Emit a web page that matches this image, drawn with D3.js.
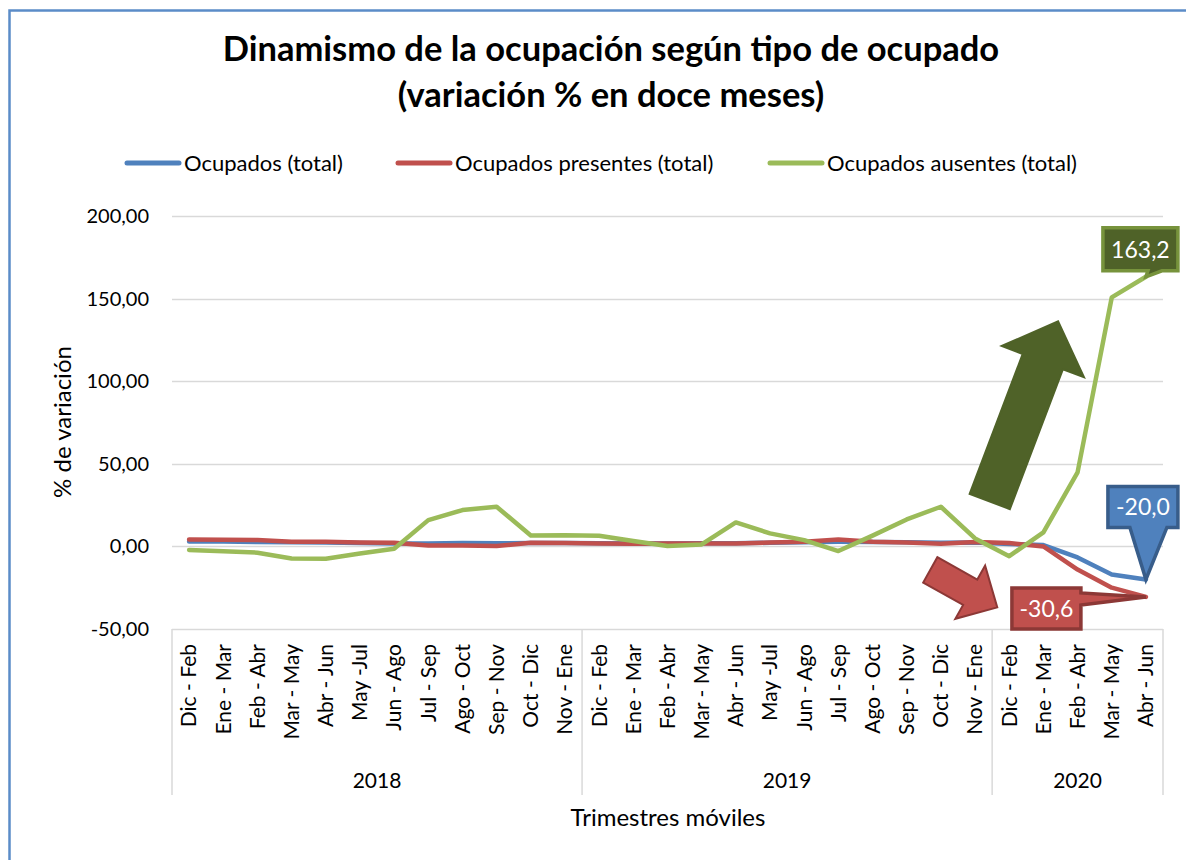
<!DOCTYPE html>
<html>
<head>
<meta charset="utf-8">
<script src="https://cdn.jsdelivr.net/npm/d3@7"></script>
<style>
  body { margin: 0; background: #fff; }
  svg { display: block; font-family: Lato, "Open Sans", sans-serif; }
</style>
</head>
<body>
<svg id="chart"></svg>
<script>
// categories (rolling quarters) and the year groups they belong to
const categories = [
  'Dic - Feb', 'Ene - Mar', 'Feb - Abr', 'Mar - May', 'Abr - Jun', 'May -Jul',
  'Jun - Ago', 'Jul - Sep', 'Ago - Oct', 'Sep - Nov', 'Oct - Dic', 'Nov - Ene',
  'Dic - Feb', 'Ene - Mar', 'Feb - Abr', 'Mar - May', 'Abr - Jun', 'May -Jul',
  'Jun - Ago', 'Jul - Sep', 'Ago - Oct', 'Sep - Nov', 'Oct - Dic', 'Nov - Ene',
  'Dic - Feb', 'Ene - Mar', 'Feb - Abr', 'Mar - May', 'Abr - Jun'
];
const years = ['2018', '2019', '2020'];
const yearCounts = [12, 12, 5];

// series (% variation in twelve months)
const ocupadosTotal = [3.0, 2.9, 2.7, 2.5, 2.4, 2.1, 1.8, 1.8, 2.0, 1.9, 2.1, 2.0,
  1.9, 1.8, 1.8, 1.9, 1.9, 2.2, 2.5, 2.8, 2.7, 2.5, 2.2, 2.3, 1.5, 0.8, -6.7, -17.0, -20.0];
const ocupadosPresentes = [4.2, 4.0, 3.8, 2.8, 2.8, 2.4, 2.2, 0.6, 0.5, 0.2, 2.2, 2.1,
  1.8, 1.6, 1.7, 1.8, 1.8, 2.3, 2.8, 4.2, 2.8, 2.4, 1.6, 2.6, 2.0, 0.0, -14.0, -25.0, -30.6];
const ocupadosAusentes = [-2.2, -3.0, -3.8, -7.3, -7.5, -4.3, -1.4, 15.9, 22.0, 24.0, 6.6, 6.8,
  6.5, 3.3, 0.2, 1.2, 14.5, 7.9, 3.8, -2.8, 6.5, 16.3, 24.0, 4.8, -5.9, 8.5, 44.8, 150.7, 163.2];

const seriesNames = ['Ocupados (total)', 'Ocupados presentes (total)', 'Ocupados ausentes (total)'];
const seriesColors = ['#4f81bd', '#c0504d', '#9bbb59'];
const yTicks = [-50, 0, 50, 100, 150, 200];

const width = 1186, height = 860;
const margin = { top: 216, right: 23, bottom: 231, left: 172 };
const plotW = width - margin.left - margin.right;
const plotH = height - margin.top - margin.bottom;

const svg = d3.select('#chart').attr('width', width).attr('height', height);
svg.append('rect').attr('width', width).attr('height', height).attr('fill', '#fff');

// outer frame (only top and left edges are visible in the crop)
svg.append('path')
  .attr('d', `M9.5,${height} V10.5 H${width}`)
  .attr('fill', 'none')
  .attr('stroke', '#5b8cc8')
  .attr('stroke-width', 2.5);

const locale = d3.formatLocale({ decimal: ',', thousands: '.', grouping: [3], currency: ['', ''], minus: '-' });
const fmt2 = locale.format('.2f');
const fmt1 = locale.format('.1f');

const x = d3.scalePoint()
  .domain(d3.range(categories.length))
  .range([0, plotW])
  .padding(0.5);
const xAt = i => x(0) + i * x.step();

const y = d3.scaleLinear()
  .domain([-50, 200])
  .range([plotH, 0]);

const chart = svg.append('g')
  .attr('transform', `translate(${margin.left},${margin.top})`);

// horizontal gridlines
chart.append('g')
  .selectAll('line')
  .data(yTicks)
  .join('line')
  .attr('x1', 0)
  .attr('x2', plotW)
  .attr('y1', d => Math.round(y(d)) + 0.5)
  .attr('y2', d => Math.round(y(d)) + 0.5)
  .attr('stroke', '#d9d9d9')
  .attr('stroke-width', 1.5);

// y axis labels
const yAxisG = chart.append('g')
  .call(d3.axisLeft(y).tickValues(yTicks).tickSize(0).tickPadding(23).tickFormat(fmt2));
yAxisG.select('.domain').remove();
yAxisG.selectAll('text')
  .style('font-family', 'Lato, "Open Sans", sans-serif')
  .style('font-size', '20px')
  .attr('fill', '#000');

// category axis: rotated labels and year groups
const xAxisG = chart.append('g').attr('transform', `translate(0,${plotH})`);
xAxisG.selectAll('.cat')
  .data(categories)
  .join('text')
  .attr('class', 'cat')
  .attr('transform', (d, i) => `translate(${x(i)},15) rotate(-90)`)
  .attr('text-anchor', 'end')
  .attr('dy', '0.35em')
  .style('font-size', '21px')
  .text(d => d);

let start = 0;
const groups = years.map((yr, k) => {
  const g = { year: yr, from: start, to: start + yearCounts[k] };
  start += yearCounts[k];
  return g;
});
const edgeX = i => x(0) - x.step() / 2 + i * x.step();

xAxisG.selectAll('.sep')
  .data([0].concat(groups.map(g => g.to)))
  .join('line')
  .attr('class', 'sep')
  .attr('x1', d => edgeX(d))
  .attr('x2', d => edgeX(d))
  .attr('y1', 0)
  .attr('y2', 166)
  .attr('stroke', '#d9d9d9')
  .attr('stroke-width', 1.5);

xAxisG.selectAll('.year')
  .data(groups)
  .join('text')
  .attr('class', 'year')
  .attr('x', d => (edgeX(d.from) + edgeX(d.to)) / 2)
  .attr('y', 159)
  .attr('text-anchor', 'middle')
  .style('font-size', '21px')
  .text(d => d.year);

// axis titles
svg.append('text')
  .attr('x', 668)
  .attr('y', 826)
  .attr('text-anchor', 'middle')
  .style('font-size', '24px')
  .text('Trimestres móviles');

svg.append('text')
  .attr('transform', 'translate(71,422) rotate(-90)')
  .attr('text-anchor', 'middle')
  .style('font-size', '24px')
  .text('% de variación');

// chart title
const title = svg.append('text')
  .attr('text-anchor', 'middle')
  .style('font-size', '34.5px')
  .style('font-weight', 'bold');
title.append('tspan').attr('x', 611).attr('y', 61).text('Dinamismo de la ocupación según tipo de ocupado');
title.append('tspan').attr('x', 611).attr('y', 107).text('(variación % en doce meses)');

// legend
const legendX = [125, 396, 768];
const legend = svg.append('g')
  .selectAll('g')
  .data(seriesNames)
  .join('g')
  .attr('transform', (d, i) => `translate(${legendX[i]},163)`);
legend.append('line')
  .attr('x1', 2).attr('x2', 54)
  .attr('stroke', (d, i) => seriesColors[i])
  .attr('stroke-width', 5)
  .attr('stroke-linecap', 'round');
legend.append('text')
  .attr('x', 59)
  .attr('dy', '0.35em')
  .style('font-size', '22px')
  .text(d => d);

// block arrows (tail and tip in data space: category index, value)
const arrows = [
  { tail: [23.43, 27.2], tip: [25.43, 136.2], shaft: 43, headW: 88, headL: 43, fill: '#4f6228', stroke: '#4f6228' },
  { tail: [21.69, -14.2], tip: [23.65, -36.9], shaft: 29, headW: 61, headL: 31, fill: '#c0504d', stroke: '#8c3836' }
];
function arrowPath(a) {
  const x0 = xAt(a.tail[0]), y0 = y(a.tail[1]);
  const x1 = xAt(a.tip[0]), y1 = y(a.tip[1]);
  const len = Math.hypot(x1 - x0, y1 - y0);
  const ux = (x1 - x0) / len, uy = (y1 - y0) / len;
  const nx = -uy, ny = ux;
  const bx = x1 - ux * a.headL, by = y1 - uy * a.headL;
  const pts = [
    [x0 + nx * a.shaft / 2, y0 + ny * a.shaft / 2],
    [bx + nx * a.shaft / 2, by + ny * a.shaft / 2],
    [bx + nx * a.headW / 2, by + ny * a.headW / 2],
    [x1, y1],
    [bx - nx * a.headW / 2, by - ny * a.headW / 2],
    [bx - nx * a.shaft / 2, by - ny * a.shaft / 2],
    [x0 - nx * a.shaft / 2, y0 - ny * a.shaft / 2]
  ];
  return 'M' + pts.map(p => p.join(',')).join('L') + 'Z';
}
chart.append('g')
  .selectAll('path')
  .data(arrows)
  .join('path')
  .attr('d', arrowPath)
  .attr('fill', d => d.fill)
  .attr('stroke', d => d.stroke)
  .attr('stroke-width', 2)
  .attr('stroke-linejoin', 'miter');

// series lines
const allSeries = [ocupadosTotal, ocupadosPresentes, ocupadosAusentes];
const line = d3.line()
  .x((d, i) => x(i))
  .y(d => y(d));
chart.append('g')
  .selectAll('path')
  .data(allSeries)
  .join('path')
  .attr('d', line)
  .attr('fill', 'none')
  .attr('stroke', (d, i) => seriesColors[i])
  .attr('stroke-width', 4.5)
  .attr('stroke-linejoin', 'round')
  .attr('stroke-linecap', 'round');

// callout data labels on the last point of each series
const last = categories.length - 1;
const callouts = [
  { series: ocupadosAusentes, box: [-43, -49, 32, -6], side: 'bottom', base: [2, 16], fill: '#4f6228', stroke: '#77933c' },
  { series: ocupadosTotal, box: [-38, -93, 32, -52], side: 'bottom', base: [-16, 21], fill: '#4f81bd', stroke: '#385d8a' },
  { series: ocupadosPresentes, box: [-134, -9, -65, 32], side: 'right', base: [-4, 8], fill: '#c0504d', stroke: '#8c3836' }
];
function calloutPath(c) {
  const tx = x(last), ty = y(c.series[last]);
  const [l, t, r, b] = [tx + c.box[0], ty + c.box[1], tx + c.box[2], ty + c.box[3]];
  if (c.side === 'bottom') {
    return `M${l},${t}H${r}V${b}H${tx + c.base[1]}L${tx},${ty}L${tx + c.base[0]},${b}H${l}Z`;
  }
  return `M${l},${t}H${r}V${ty + c.base[0]}L${tx},${ty}L${r},${ty + c.base[1]}V${b}H${l}Z`;
}
const calloutG = chart.append('g')
  .selectAll('g')
  .data(callouts)
  .join('g');
calloutG.append('path')
  .attr('d', calloutPath)
  .attr('fill', d => d.fill)
  .attr('stroke', d => d.stroke)
  .attr('stroke-width', 3.5)
  .attr('stroke-linejoin', 'miter');
calloutG.append('text')
  .attr('x', d => x(last) + (d.box[0] + d.box[2]) / 2)
  .attr('y', d => y(d.series[last]) + (d.box[1] + d.box[3]) / 2)
  .attr('dy', '0.36em')
  .attr('text-anchor', 'middle')
  .attr('fill', '#fff')
  .style('font-size', '23px')
  .text(d => fmt1(d.series[last]));
</script>
</body>
</html>
